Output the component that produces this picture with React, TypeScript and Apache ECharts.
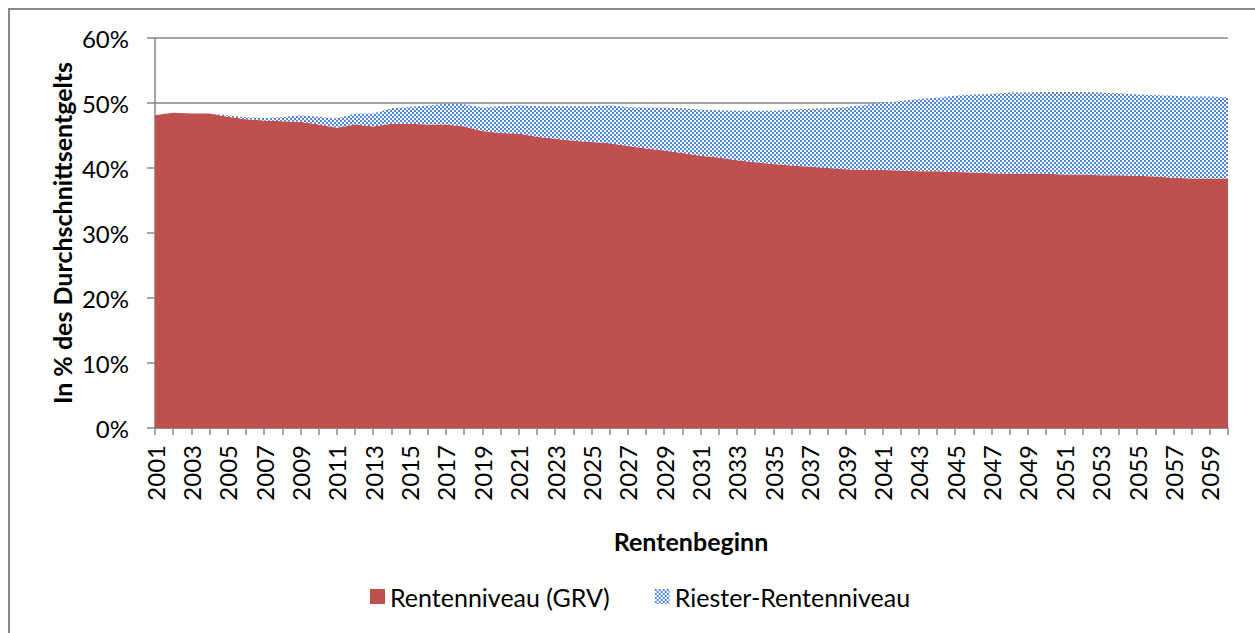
import React, { useEffect, useRef } from "react";
import * as echarts from "echarts";

const years: string[] = [];
for (let y = 2001; y <= 2060; y++) years.push(String(y));

const grv: number[] = [
  48.1, 48.5, 48.4, 48.4, 47.9, 47.5, 47.3, 47.2, 47.1, 46.7,
  46.2, 46.7, 46.4, 46.8, 46.8, 46.7, 46.7, 46.4, 45.7, 45.4,
  45.3, 44.8, 44.5, 44.2, 44.0, 43.8, 43.4, 43.0, 42.7, 42.3,
  41.9, 41.6, 41.2, 40.9, 40.6, 40.4, 40.2, 40.0, 39.8, 39.7,
  39.7, 39.6, 39.5, 39.5, 39.4, 39.3, 39.2, 39.1, 39.1, 39.1,
  39.0, 39.0, 38.9, 38.9, 38.8, 38.7, 38.5, 38.4, 38.4, 38.4,
];

const riester: number[] = [
  0.0, 0.0, 0.0, 0.0, 0.2, 0.3, 0.4, 0.6, 1.0, 1.2,
  1.4, 1.7, 2.0, 2.4, 2.6, 2.9, 3.2, 3.4, 3.6, 4.1,
  4.3, 4.7, 5.0, 5.3, 5.5, 5.8, 6.0, 6.3, 6.6, 6.9,
  7.1, 7.3, 7.6, 7.9, 8.2, 8.6, 8.9, 9.2, 9.6, 10.0,
  10.3, 10.7, 11.1, 11.3, 11.7, 12.0, 12.2, 12.5, 12.5, 12.6,
  12.7, 12.7, 12.7, 12.6, 12.5, 12.5, 12.6, 12.6, 12.6, 12.5,
];

const seriesNames = ["Rentenniveau (GRV)", "Riester-Rentenniveau"];
const yTitle = "In % des Durchschnittsentgelts";
const xTitle = "Rentenbeginn";

const FONT = "Lato, 'Open Sans', sans-serif";

export default function App() {
  const ref = useRef<HTMLDivElement>(null);

  useEffect(() => {
    if (!ref.current) return;
    document.body.style.overflow = "hidden";
    const canvas = document.createElement("canvas");
    canvas.width = 4;
    canvas.height = 4;
    const ctx = canvas.getContext("2d")!;
    ctx.fillStyle = "#ffffff";
    ctx.fillRect(0, 0, 4, 4);
    ctx.fillStyle = "#5087d8";
    ctx.fillRect(0, 0, 2, 2);
    ctx.fillRect(2, 2, 2, 2);
    const pattern: any = {
      image: canvas,
      repeat: "repeat",
      imageWidth: 4,
      imageHeight: 4,
    };

    const chart = echarts.init(ref.current, null, { renderer: "svg" });
    chart.setOption({
      animation: false,
      textStyle: { fontFamily: FONT },
      grid: { left: 147, right: 27, top: 30, bottom: 205, containLabel: false },
      legend: {
        left: 362,
        top: 576,
        padding: 0,
        itemWidth: 15,
        itemHeight: 15,
        itemGap: 45,
        icon: "rect",
        textStyle: { fontFamily: FONT, fontSize: 25, color: "#000" },
        data: seriesNames,
      },
      xAxis: {
        type: "category",
        data: years,
        boundaryGap: false,
        axisLine: { lineStyle: { color: "#868686", width: 1.5 } },
        axisTick: { interval: 0, length: 7, lineStyle: { color: "#868686", width: 1.5 } },
        axisLabel: {
          interval: 1,
          rotate: 90,
          margin: 17,
          fontFamily: FONT,
          fontSize: 24,
          color: "#000",
        },
        splitLine: { show: false },
      },
      yAxis: {
        type: "value",
        min: 0,
        max: 60,
        interval: 10,
        axisLine: { show: true, lineStyle: { color: "#868686", width: 1.5 } },
        axisTick: { show: true, length: 8, lineStyle: { color: "#868686", width: 1.5 } },
        axisLabel: {
          formatter: "{value}%",
          margin: 26,
          fontFamily: FONT,
          fontSize: 24,
          color: "#000",
        },
        splitLine: { show: true, lineStyle: { color: "#868686", width: 1.5 } },
      },
      graphic: [
        { type: "line", shape: { x1: 1, y1: 0, x2: 1, y2: 625 }, style: { stroke: "#888", lineWidth: 2 } },
        { type: "line", shape: { x1: 0, y1: 1, x2: 1247, y2: 1 }, style: { stroke: "#888", lineWidth: 2 } },
        {
          type: "text",
          x: 54,
          y: 225,
          rotation: Math.PI / 2,
          style: {
            text: yTitle,
            fontFamily: FONT,
            fontWeight: "bold",
            fontSize: 25,
            fill: "#000",
            align: "center",
            verticalAlign: "middle",
          },
        },
        {
          type: "text",
          x: 683,
          y: 533,
          style: {
            text: xTitle,
            fontFamily: FONT,
            fontWeight: "bold",
            fontSize: 25,
            fill: "#000",
            align: "center",
            verticalAlign: "middle",
          },
        },
      ],
      series: [
        {
          name: seriesNames[0],
          type: "line",
          stack: "total",
          data: grv,
          showSymbol: false,
          symbol: "none",
          lineStyle: { width: 0 },
          itemStyle: { color: "#c0504d" },
          areaStyle: { color: "#c0504d", opacity: 1 },
        },
        {
          name: seriesNames[1],
          type: "line",
          stack: "total",
          data: riester,
          showSymbol: false,
          symbol: "none",
          lineStyle: { width: 0 },
          itemStyle: { color: pattern },
          areaStyle: { color: pattern, opacity: 1 },
        },
      ],
    });
    return () => chart.dispose();
  }, []);

  return (
    <div
      ref={ref}
      style={{ position: "absolute", left: 8, top: 8, width: 1247, height: 625 }}
    />
  );
}
